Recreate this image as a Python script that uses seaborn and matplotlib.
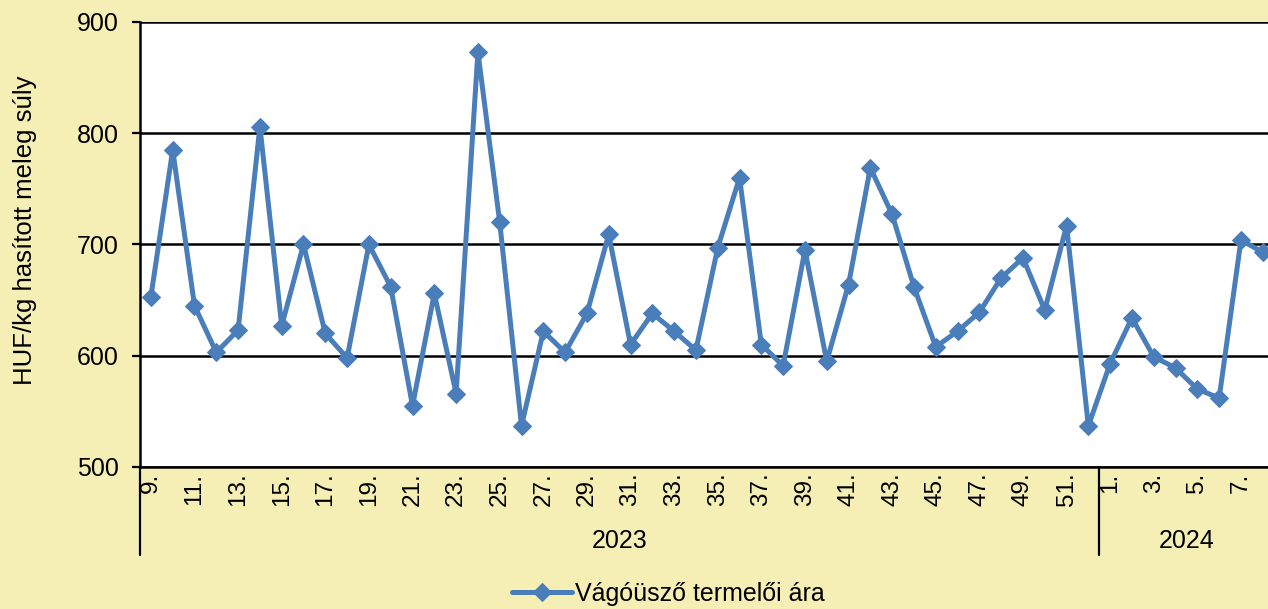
import numpy as np
import pandas as pd
import matplotlib
matplotlib.use("Agg")
import matplotlib.pyplot as plt
import seaborn as sns

# weekly data: 2023 weeks 9-52, 2024 weeks 1-8
weeks_2023 = list(range(9, 53))
weeks_2024 = list(range(1, 9))
prices_2023 = [653, 785, 645, 603, 623, 806, 627, 700, 620, 598,
               700, 662, 555, 656, 566, 873, 720, 537, 622, 603,
               638, 709, 610, 638, 622, 605, 697, 760, 610, 591,
               695, 595, 664, 769, 727, 662, 608, 622, 639, 670,
               688, 641, 717, 537]
prices_2024 = [593, 634, 599, 589, 570, 562, 704, 693]
series_name = "Vágóüsző termelői ára"
y_label = "HUF/kg hasított meleg súly"

df = pd.DataFrame({
    "year": ["2023"] * len(weeks_2023) + ["2024"] * len(weeks_2024),
    "week": weeks_2023 + weeks_2024,
    "price": prices_2023 + prices_2024,
})
df["pos"] = np.arange(len(df))

sns.set_style("white")
plt.rcParams["font.family"] = ["Liberation Sans", "DejaVu Sans"]
plt.rcParams["text.color"] = "black"
plt.rcParams["axes.labelcolor"] = "black"
plt.rcParams["xtick.color"] = "black"
plt.rcParams["ytick.color"] = "black"

bg = "#F5EFB5"
blue = "#4A7EBB"
fs = 18

fig = plt.figure(figsize=(12.68, 6.09), dpi=100, facecolor=bg)
ax = fig.add_axes([0.1104, 0.2332, 0.8896, 0.7307])
ax.set_facecolor("white")

sns.lineplot(data=df, x="pos", y="price", ax=ax, color=blue, linewidth=3.6,
             marker="D", markersize=9.5, markeredgecolor=blue, label=series_name)

ax.set_ylim(500, 900)
ax.set_yticks([500, 600, 700, 800, 900])
ax.set_xlim(-0.5, 51.24)
ax.grid(axis="y", color="black", linewidth=1.8)
ax.set_axisbelow(True)

tick_pos = df["pos"][::2]
tick_lab = [f"{w}." for w in df["week"][::2]]
ax.set_xticks(tick_pos)
ax.set_xticklabels(tick_lab, rotation=90)
ax.tick_params(axis="x", length=0, labelsize=17.5, pad=4)
ax.tick_params(axis="y", length=5.5, width=1.6, direction="out", labelsize=fs,
               left=True, pad=10)
ax.set_xlabel("")
ax.set_ylabel(y_label, fontsize=18.5)
ax.yaxis.set_label_coords(-0.091, 0.533)

for s in ["top", "right"]:
    ax.spines[s].set_visible(False)
for s in ["left", "bottom"]:
    ax.spines[s].set_color("black")
    ax.spines[s].set_linewidth(1.8)

# year group labels and separators
trans = ax.get_xaxis_transform()
n23 = len(weeks_2023)
for xs in [-0.5, n23 - 0.5]:
    ax.plot([xs, xs], [0, -0.198], transform=trans, color="black",
            linewidth=1.6, clip_on=False)
ax.text((n23 - 1) / 2, -0.166, "2023", transform=trans, ha="center",
        va="center", fontsize=fs)
ax.text(n23 + (len(weeks_2024) - 1) / 2, -0.166, "2024", transform=trans,
        ha="center", va="center", fontsize=fs)

ax.get_legend().remove()
handles, labels = ax.get_legend_handles_labels()
fig.legend(handles, labels, loc="lower center", bbox_to_anchor=(0.527, -0.032),
           frameon=False, fontsize=fs, handlelength=2.4, handletextpad=0.1)

fig.savefig("out.png", dpi=100, facecolor=bg)
